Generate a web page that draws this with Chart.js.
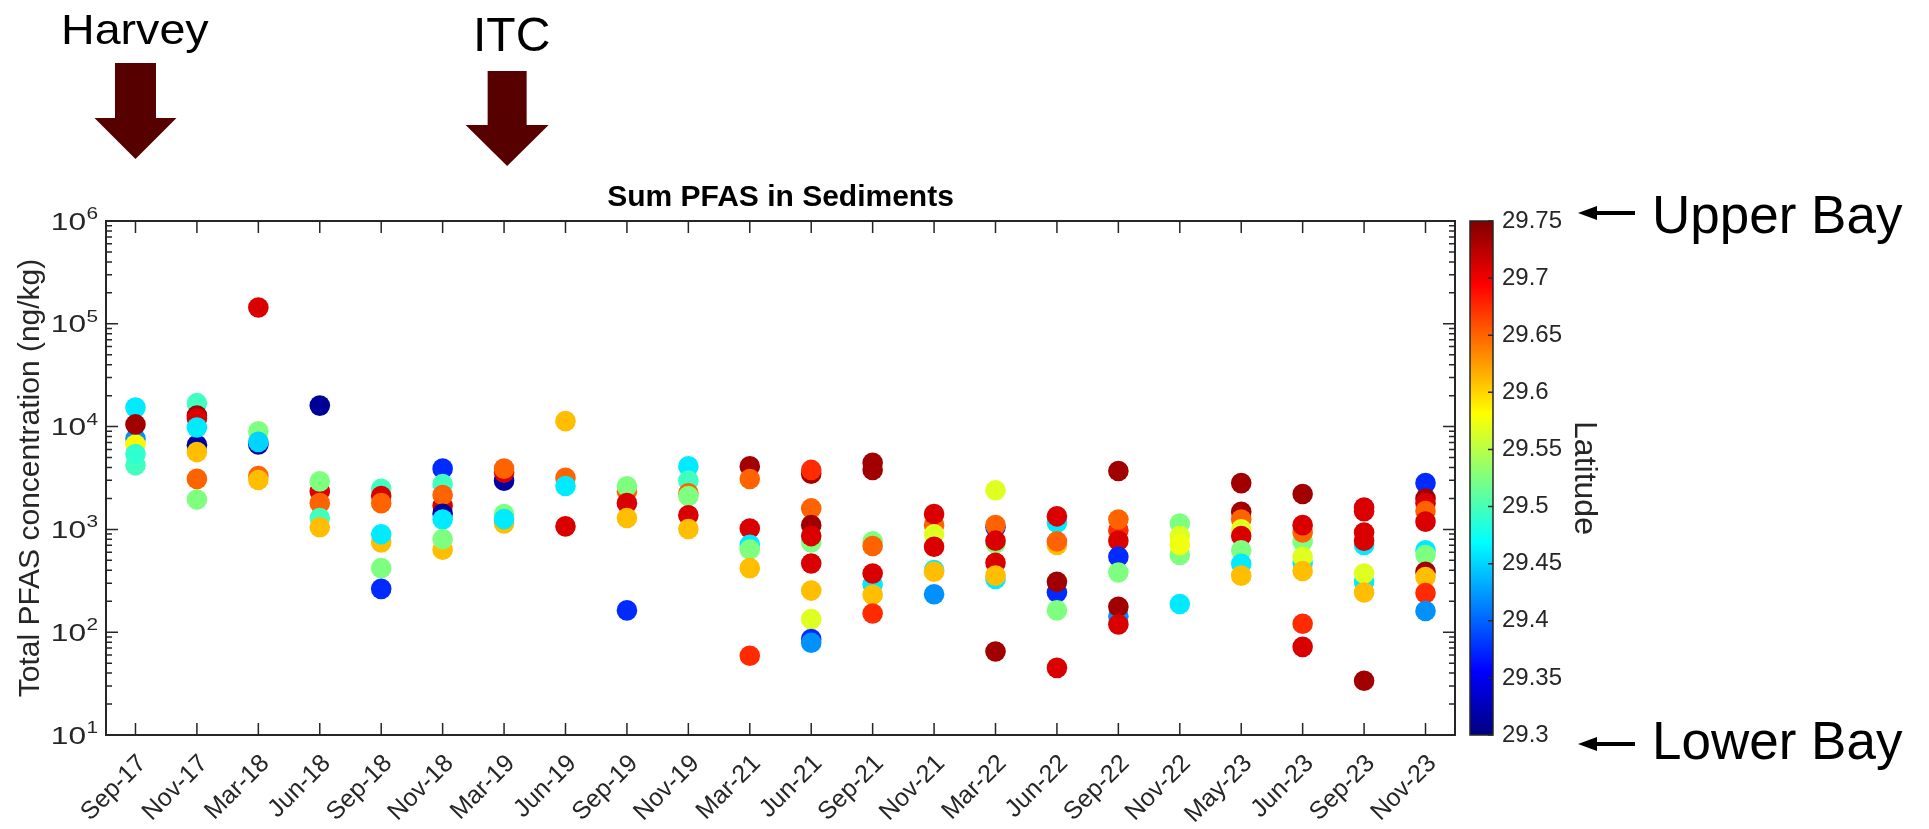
<!DOCTYPE html>
<html>
<head>
<meta charset="utf-8">
<script src="https://cdn.jsdelivr.net/npm/chart.js@4.4.0/dist/chart.umd.min.js"></script>
<style>
html,body{margin:0;padding:0;background:#fff;}
canvas{display:block;}
</style>
</head>
<body>
<canvas id="c" width="1929" height="829" style="width:1929px;height:829px"></canvas>
<script>
// ---------------- data ----------------
const categories = ['Sep-17','Nov-17','Mar-18','Jun-18','Sep-18','Nov-18','Mar-19','Jun-19','Sep-19','Nov-19','Mar-21','Jun-21','Sep-21','Nov-21','Mar-22','Jun-22','Sep-22','Nov-22','May-23','Jun-23','Sep-23','Nov-23'];

// Total PFAS concentration (ng/kg) for each sampling campaign (drawing order)
const concentrations = [
  [7600, 6700, 4200, 5400, 15300, 10500],
  [1950, 3100, 6600, 5650, 16900, 12800, 12000, 9800],
  [144000, 8980, 6700, 7100, 3300, 3020],
  [16000, 2340, 2930, 1800, 1290, 1050],
  [2480, 2110, 1800, 747, 898, 420, 264],
  [3900, 2760, 1700, 2160, 1420, 1250, 634, 807],
  [2980, 3570, 3900, 1140, 1410, 1260],
  [11300, 3170, 2640, 1070],
  [2350, 2630, 1800, 1290, 163],
  [4100, 2980, 2250, 2110, 1370, 1010],
  [4100, 3090, 1020, 707, 637, 420, 59],
  [3480, 3790, 1600, 747, 1100, 861, 466, 254, 134, 86, 79],
  [4440, 3790, 764, 690, 293, 372, 231, 152],
  [1100, 1410, 897, 678, 403, 387, 234],
  [2400, 1050, 1100, 730, 777, 473, 330, 355, 65],
  [1160, 1340, 707, 764, 243, 309, 163, 45],
  [3700, 980, 1250, 777, 542, 381, 143, 177, 119],
  [1140, 564, 861, 707, 188],
  [2820, 1480, 1250, 1000, 861, 627, 462, 355],
  [2210, 764, 933, 1100, 470, 542, 394, 121, 72],
  [1500, 1630, 707, 933, 777, 309, 372, 243, 33.7],
  [2820, 2000, 1800, 1510, 1190, 627, 564, 387, 344, 240, 161]
];

// Station latitude (colour) for each sample above
const latitudes = [
  [29.42, 29.585, 29.497, 29.49, 29.46, 29.735],
  [29.525, 29.65, 29.315, 29.61, 29.497, 29.735, 29.71, 29.46],
  [29.71, 29.525, 29.315, 29.45, 29.65, 29.61],
  [29.31, 29.71, 29.525, 29.65, 29.497, 29.61],
  [29.497, 29.71, 29.65, 29.61, 29.46, 29.525, 29.375],
  [29.375, 29.497, 29.71, 29.65, 29.315, 29.46, 29.61, 29.525],
  [29.315, 29.71, 29.65, 29.61, 29.525, 29.46],
  [29.61, 29.65, 29.46, 29.71],
  [29.65, 29.525, 29.71, 29.61, 29.375],
  [29.46, 29.497, 29.65, 29.525, 29.71, 29.61],
  [29.735, 29.65, 29.71, 29.46, 29.525, 29.61, 29.675],
  [29.735, 29.675, 29.65, 29.525, 29.735, 29.71, 29.71, 29.61, 29.567, 29.375, 29.42],
  [29.735, 29.735, 29.525, 29.65, 29.46, 29.71, 29.61, 29.675],
  [29.65, 29.71, 29.567, 29.71, 29.46, 29.61, 29.42],
  [29.567, 29.375, 29.65, 29.525, 29.71, 29.71, 29.46, 29.61, 29.735],
  [29.46, 29.71, 29.61, 29.65, 29.375, 29.735, 29.525, 29.71],
  [29.735, 29.675, 29.65, 29.71, 29.375, 29.525, 29.42, 29.735, 29.71],
  [29.525, 29.525, 29.567, 29.575, 29.46],
  [29.735, 29.735, 29.65, 29.567, 29.71, 29.525, 29.46, 29.61],
  [29.735, 29.525, 29.65, 29.71, 29.46, 29.567, 29.61, 29.675, 29.71],
  [29.71, 29.71, 29.46, 29.71, 29.71, 29.46, 29.567, 29.61, 29.735],
  [29.375, 29.735, 29.71, 29.65, 29.71, 29.46, 29.525, 29.735, 29.61, 29.675, 29.42]
];

const yDecades = [10, 100, 1000, 10000, 100000, 1000000];
const latitudeTicks = [29.3, 29.35, 29.4, 29.45, 29.5, 29.55, 29.6, 29.65, 29.7, 29.75];
const latMin = 29.3, latMax = 29.75;

// ---------------- style ----------------
const FONT = '"Liberation Sans", Arial, Helvetica, sans-serif';
const AX = '#262626';
Chart.defaults.font.family = FONT;

function jetRGB(v) {
  const t = Math.min(1, Math.max(0, (v - latMin) / (latMax - latMin)));
  const f = u => Math.round(255 * Math.min(1, Math.max(0, u)));
  return [f(1.5 - Math.abs(4 * t - 3)), f(1.5 - Math.abs(4 * t - 2)), f(1.5 - Math.abs(4 * t - 1))];
}
function jetCss(v) { const c = jetRGB(v); return `rgb(${c[0]},${c[1]},${c[2]})`; }

const points = [];
categories.forEach((c, i) => {
  concentrations[i].forEach((v, j) => points.push({ x: i, y: v, lat: latitudes[i][j] }));
});

function drawArrowDown(ctx, cx, shaftHalf, headHalf, shaftTop, headTop, tip) {
  ctx.beginPath();
  ctx.moveTo(cx - shaftHalf, shaftTop);
  ctx.lineTo(cx + shaftHalf, shaftTop);
  ctx.lineTo(cx + shaftHalf, headTop);
  ctx.lineTo(cx + headHalf, headTop);
  ctx.lineTo(cx, tip);
  ctx.lineTo(cx - headHalf, headTop);
  ctx.lineTo(cx - shaftHalf, headTop);
  ctx.closePath();
  ctx.fill();
}
function drawArrowLeft(ctx, tipX, endX, y) {
  ctx.lineWidth = 4;
  ctx.beginPath();
  ctx.moveTo(tipX + 14, y);
  ctx.lineTo(endX, y);
  ctx.stroke();
  ctx.beginPath();
  ctx.moveTo(tipX, y);
  ctx.lineTo(tipX + 19, y - 7);
  ctx.lineTo(tipX + 19, y + 7);
  ctx.closePath();
  ctx.fill();
}

const decor = {
  id: 'decor',
  beforeDraw(chart) {
    const c = chart.ctx;
    c.save(); c.fillStyle = '#fff'; c.fillRect(0, 0, chart.width, chart.height); c.restore();
  },
  afterDraw(chart) {
    const ctx = chart.ctx, a = chart.chartArea;
    const xs = chart.scales.x, ys = chart.scales.y, ls = chart.scales.lat;
    ctx.save();

    // axes box
    ctx.strokeStyle = AX;
    ctx.lineWidth = 2;
    ctx.strokeRect(a.left, a.top, a.right - a.left, a.bottom - a.top);

    // ticks (inward)
    ctx.lineWidth = 1.5;
    ctx.beginPath();
    categories.forEach((c, i) => {
      const px = xs.getPixelForValue(i);
      ctx.moveTo(px, a.bottom); ctx.lineTo(px, a.bottom - 12);
      ctx.moveTo(px, a.top); ctx.lineTo(px, a.top + 12);
    });
    yDecades.forEach((d, k) => {
      const py = ys.getPixelForValue(d);
      ctx.moveTo(a.left, py); ctx.lineTo(a.left + 12, py);
      ctx.moveTo(a.right, py); ctx.lineTo(a.right - 12, py);
      if (k < yDecades.length - 1) {
        for (let m = 2; m <= 9; m++) {
          const pm = ys.getPixelForValue(d * m);
          ctx.moveTo(a.left, pm); ctx.lineTo(a.left + 6, pm);
          ctx.moveTo(a.right, pm); ctx.lineTo(a.right - 6, pm);
        }
      }
    });
    ctx.stroke();

    // y tick labels 10^n
    ctx.fillStyle = AX;
    yDecades.forEach(d => {
      const py = ys.getPixelForValue(d);
      const e = Math.round(Math.log10(d));
      ctx.save();
      ctx.translate(86, py + 8.5);
      ctx.scale(1.32, 1);
      ctx.font = `24px ${FONT}`;
      ctx.textAlign = 'right'; ctx.textBaseline = 'alphabetic';
      ctx.fillText('10', 0, 0);
      ctx.restore();
      ctx.save();
      ctx.translate(86.5, py - 2);
      ctx.scale(1.3, 1);
      ctx.font = `16px ${FONT}`;
      ctx.textAlign = 'left'; ctx.textBaseline = 'alphabetic';
      ctx.fillText(String(e), 0, 0);
      ctx.restore();
    });

    // y axis title
    ctx.save();
    ctx.translate(39, (a.top + a.bottom) / 2);
    ctx.rotate(-Math.PI / 2);
    ctx.font = `30px ${FONT}`;
    ctx.textAlign = 'center'; ctx.textBaseline = 'alphabetic';
    ctx.fillText('Total PFAS concentration (ng/kg)', 0, 0);
    ctx.restore();

    // chart title
    ctx.fillStyle = '#000';
    ctx.font = `bold 30px ${FONT}`;
    ctx.textAlign = 'center'; ctx.textBaseline = 'alphabetic';
    ctx.fillText('Sum PFAS in Sediments', (a.left + a.right) / 2, 206);

    // colorbar
    const cbL = 1470, cbW = 23;
    const cTop = ls.getPixelForValue(latMax), cBot = ls.getPixelForValue(latMin);
    const g = ctx.createLinearGradient(0, cBot, 0, cTop);
    for (let i = 0; i <= 64; i++) {
      const v = latMin + (latMax - latMin) * i / 64;
      g.addColorStop(i / 64, jetCss(v));
    }
    ctx.fillStyle = g;
    ctx.fillRect(cbL, cTop, cbW, cBot - cTop);
    ctx.strokeStyle = AX; ctx.lineWidth = 1.5;
    ctx.strokeRect(cbL, cTop, cbW, cBot - cTop);
    ctx.lineWidth = 1.5;
    ctx.beginPath();
    latitudeTicks.forEach(v => {
      const py = ls.getPixelForValue(v);
      ctx.moveTo(cbL + cbW, py); ctx.lineTo(cbL + cbW - 5, py);
    });
    ctx.stroke();

    // colorbar label
    ctx.save();
    ctx.fillStyle = AX;
    ctx.translate(1575, (cTop + cBot) / 2);
    ctx.rotate(Math.PI / 2);
    ctx.font = `32px ${FONT}`;
    ctx.textAlign = 'center'; ctx.textBaseline = 'alphabetic';
    ctx.fillText('Latitude', 0, 0);
    ctx.restore();

    // Upper / Lower Bay
    ctx.fillStyle = '#000'; ctx.strokeStyle = '#000';
    drawArrowLeft(ctx, 1578, 1635, ls.getPixelForValue(latMax) - 8);
    drawArrowLeft(ctx, 1578, 1635, ls.getPixelForValue(latMin) + 9);
    ctx.font = `53px ${FONT}`;
    ctx.textAlign = 'left'; ctx.textBaseline = 'alphabetic';
    ctx.fillText('Upper Bay', 1652, 233);
    ctx.fillText('Lower Bay', 1652, 759);

    // event arrows
    ctx.fillStyle = '#560000';
    drawArrowDown(ctx, xs.getPixelForValue(0), 20.5, 41, 63, 118, 159);
    drawArrowDown(ctx, xs.getPixelForValue(6.05), 19.5, 41.5, 71, 125, 166);
    ctx.fillStyle = '#000';
    ctx.save();
    ctx.translate(61, 44);
    ctx.scale(1.11, 1);
    ctx.font = `42px ${FONT}`;
    ctx.textAlign = 'left';
    ctx.fillText('Harvey', 0, 0);
    ctx.restore();
    ctx.font = `48px ${FONT}`;
    ctx.textAlign = 'left';
    ctx.fillText('ITC', 473, 51);

    ctx.restore();
  }
};

new Chart(document.getElementById('c'), {
  type: 'scatter',
  data: {
    datasets: [{
      data: points,
      pointRadius: 10.3,
      pointHoverRadius: 10.3,
      pointBorderWidth: 0,
      pointBackgroundColor: ctx => jetCss(ctx.raw ? ctx.raw.lat : latMin),
      pointBorderColor: 'rgba(0,0,0,0)'
    }]
  },
  options: {
    responsive: false,
    animation: false,
    events: [],
    layout: { padding: { left: 0, top: 221, right: 334, bottom: 0 } },
    plugins: { legend: { display: false }, tooltip: { enabled: false }, title: { display: false } },
    scales: {
      x: {
        type: 'linear',
        min: -0.48, max: 21.48,
        afterBuildTicks: s => { s.ticks = categories.map((c, i) => ({ value: i })); },
        afterFit: s => { s.height = 94; },
        grid: { display: false, drawTicks: false },
        border: { display: false },
        ticks: {
          autoSkip: false,
          minRotation: 45, maxRotation: 45,
          padding: 14,
          labelOffset: 7,
          color: AX,
          font: { size: 25, family: FONT },
          callback: v => categories[Math.round(v)]
        }
      },
      y: {
        type: 'logarithmic',
        min: 10, max: 1000000,
        afterFit: s => { s.width = 106; },
        grid: { display: false, drawTicks: false },
        border: { display: false },
        ticks: { display: false }
      },
      lat: {
        type: 'linear',
        position: 'right',
        min: latMin, max: latMax,
        afterBuildTicks: s => { s.ticks = latitudeTicks.map(v => ({ value: v })); },
        afterFit: s => { s.width = 140; },
        grid: { display: false, drawTicks: false },
        border: { display: false },
        ticks: {
          padding: 47,
          color: AX,
          font: { size: 24, family: FONT },
          callback: v => String(v)
        }
      }
    }
  },
  plugins: [decor]
});
</script>
</body>
</html>
